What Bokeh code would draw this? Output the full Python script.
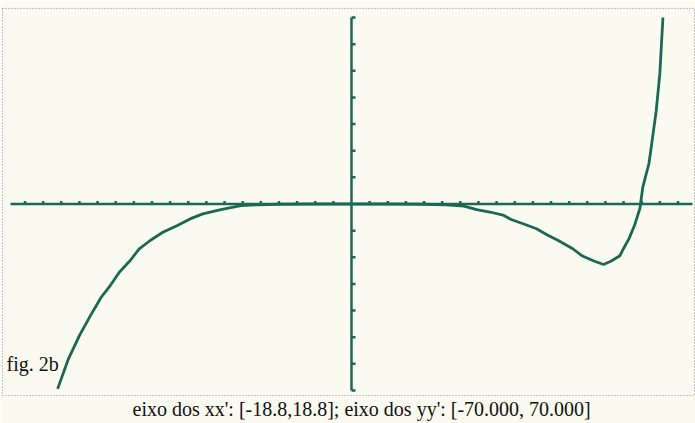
from bokeh.plotting import figure
from bokeh.models import Range1d, Label, Title
from bokeh.embed import file_html
from bokeh.resources import INLINE

# window of the calculator
x_min, x_max = -18.8, 18.8
y_min, y_max = -70.0, 70.0
x_ticks = [t for t in range(-18, 19) if t != 0]
y_ticks = [t for t in range(-70, 71, 10) if t != 0]

# curve
curve_x = [-16.2, -15.6, -15.0, -14.4, -13.8, -13.3, -12.8, -12.2, -11.7, -11.1,
           -10.4, -9.6, -8.9, -8.2, -7.2, -6.1, -5.2, -4.0, -2.0, 0.0, 2.0, 4.0,
           5.2, 6.2, 6.9, 7.7, 8.4, 8.8, 9.5, 10.2, 10.8, 11.4, 12.2, 12.7, 13.4,
           13.9, 14.3, 14.8, 15.0, 15.3, 15.6, 15.9, 16.06, 16.2, 16.4, 16.6,
           16.8, 17.0, 17.17]
curve_y = [-69.4, -58.0, -49.4, -42.0, -35.0, -30.6, -25.6, -21.2, -16.8, -13.7,
           -10.6, -8.1, -5.6, -3.7, -2.1, -0.6, -0.3, -0.1, 0.0, 0.0, 0.0, -0.1,
           -0.3, -0.8, -2.1, -3.1, -4.3, -5.8, -7.5, -9.3, -11.6, -13.7, -16.8,
           -19.4, -21.5, -22.7, -21.5, -19.4, -16.7, -13.0, -8.1, -1.7, 6.3, 10.0,
           15.2, 25.0, 35.0, 49.0, 70.0]

caption = "eixo dos xx': [-18.8,18.8]; eixo dos yy': [-70.000, 70.000]"
fig_label = "fig. 2b"

W, H = 695, 423
# screen placement of the plotted window inside the dotted frame
frame_l, frame_r, frame_t, frame_b = 2, 694, 8, 395
ax_l, ax_r, ax_t, ax_b = 10, 692, 17, 390
sx = (ax_r - ax_l) / (x_max - x_min)
sy = (ax_b - ax_t) / (y_max - y_min)
xr = Range1d(x_min - (ax_l - frame_l) / sx, x_max + (frame_r - ax_r) / sx)
yr = Range1d(y_min - (frame_b - ax_b) / sy, y_max + (ax_t - frame_t) / sy)

teal = "#1b6853"
bg = "#fbfaf0"
serif = "Liberation Serif"

p = figure(width=W, height=H, x_range=xr, y_range=yr, output_backend="svg",
           toolbar_location=None, min_border_left=frame_l,
           min_border_right=W - frame_r, min_border_top=frame_t,
           min_border_bottom=H - frame_b)
p.styles = {"position": "absolute", "left": "0px", "top": "0px"}
p.xaxis.visible = False
p.yaxis.visible = False
p.grid.visible = False
p.background_fill_color = bg
p.border_fill_color = bg
p.outline_line_color = "#8c8c8c"
p.outline_line_dash = "1 2"
p.outline_line_width = 1

# axes
p.segment(x0=[x_min], y0=[0], x1=[x_max], y1=[0], line_color=teal, line_width=2.5)
p.segment(x0=[0], y0=[y_min], x1=[0], y1=[y_max], line_color=teal, line_width=2.5)
tick_h = 3.0 / sy
tick_w = 4.0 / sx
p.segment(x0=x_ticks, y0=[0] * len(x_ticks), x1=x_ticks, y1=[tick_h] * len(x_ticks),
          line_color=teal, line_width=2.5)
p.segment(x0=[0] * len(y_ticks), y0=y_ticks, x1=[tick_w] * len(y_ticks), y1=y_ticks,
          line_color=teal, line_width=2.5)

# curve
p.line(curve_x, curve_y, line_color=teal, line_width=2.8)

# label positions in screen units are relative to the frame (bottom-left)
p.add_layout(Label(x=6 - frame_l, y=frame_b - 374, x_units="screen", y_units="screen",
                   text=fig_label, text_font=serif, text_font_size="20px",
                   text_color="#111111"))
p.add_layout(Title(text=caption, align="left", offset=132 - frame_l, standoff=0,
                   text_font=serif, text_font_size="20px", text_font_style="normal",
                   text_color="#111111"), "below")

open("out.html", "w").write(file_html(p, INLINE))
